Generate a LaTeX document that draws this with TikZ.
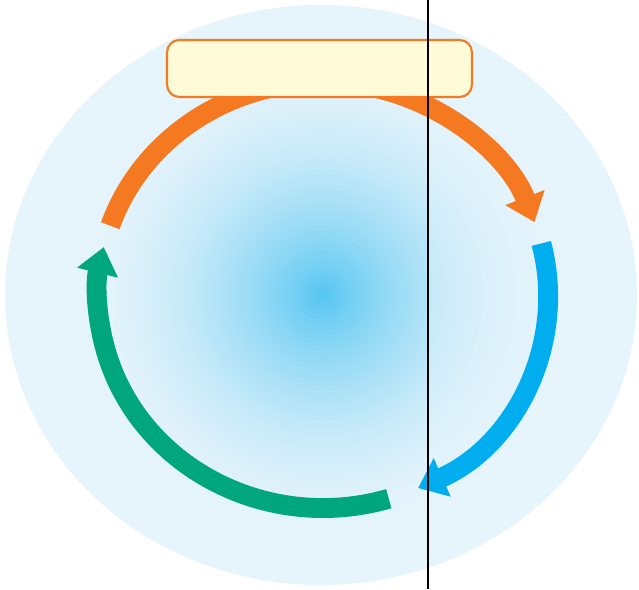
\documentclass[tikz,border=0pt]{standalone}
\usetikzlibrary{arrows.meta,calc}
\definecolor{bgblue}{HTML}{E6F4FB}
\definecolor{coreblue}{HTML}{55C5F1}
\definecolor{cycorange}{HTML}{F47920}
\definecolor{cycblue}{HTML}{00AEEF}
\definecolor{cycgreen}{HTML}{00A67E}
\definecolor{boxfill}{HTML}{FFFAD7}

\begin{document}
\begin{tikzpicture}[x=0.02cm, y=0.02cm, >={Triangle[width=23pt, length=15pt]}]
  \useasboundingbox (0,0) rectangle (639,589);
  \coordinate (c) at (323,294);
  % background disc
  \fill[bgblue] (321,294) ellipse [x radius=316, y radius=290];
  % glow, a little paler right of the divider
  \foreach \side/\core in {0/coreblue, 1/coreblue!60!bgblue} {
    \begin{scope}
      \clip (428*\side,0) rectangle (428+211*\side,589);
      \foreach \r in {245,240,...,5} {
        \pgfmathsetmacro\p{100*(1-\r/250)^1.8}
        \fill[\core!\p!bgblue] (c) circle [radius=\r];
      }
    \end{scope}
  }
  % cycle arrows, all clockwise
  \foreach \a/\b/\col in {161/20/cycorange, 14/-65/cycblue, -73/-193/cycgreen}
    \draw[->, line width=11.3pt, \col] ($(c)+(\a:225 and 213)$)
         arc [start angle=\a, end angle=\b, x radius=225, y radius=213];
  % title box
  \node[draw=cycorange, fill=boxfill, line width=1.2pt, rounded corners=7pt,
        inner sep=0pt, minimum width=6.1cm, minimum height=1.14cm] (title) at (319.5,520.5) {};
  % divider
  \coordinate (top) at (428,589);
  \coordinate (bot) at (428,0);
  \draw[line width=1.2pt] (top) -- (bot);
\end{tikzpicture}
\end{document}
